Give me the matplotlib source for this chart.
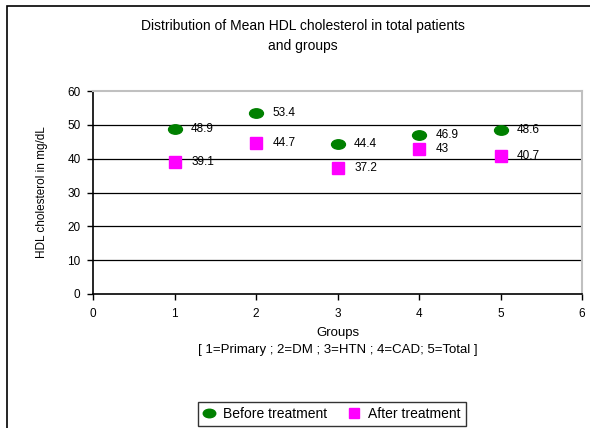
import matplotlib
matplotlib.use("Agg")
import matplotlib.pyplot as plt
from matplotlib.path import Path
from matplotlib.transforms import Affine2D
from matplotlib.patches import Rectangle

# data
groups = [1, 2, 3, 4, 5]
before = [48.9, 53.4, 44.4, 46.9, 48.6]
after = [39.1, 44.7, 37.2, 43.0, 40.7]
before_labels = ["48.9", "53.4", "44.4", "46.9", "48.6"]
after_labels = ["39.1", "44.7", "37.2", "43", "40.7"]
xticks = [0, 1, 2, 3, 4, 5, 6]
yticks = [0, 10, 20, 30, 40, 50, 60]

plt.rcParams['font.family'] = ['Liberation Sans', 'DejaVu Sans']

fig = plt.figure(figsize=(5.9, 4.28), dpi=100)
ax = fig.add_axes([93 / 590, 1 - 294 / 428, (582 - 93) / 590, (294 - 91) / 428])

# flattened ellipse marker like the Excel one
ellipse = Path.unit_circle().transformed(Affine2D().scale(1.0, 0.68))

ax.plot(groups, before, linestyle='none', marker=ellipse, markersize=10,
        color='#008000', label='Before treatment', zorder=3)
ax.plot(groups, after, linestyle='none', marker='s', markersize=8,
        color='#ff00ff', label='After treatment', zorder=3)

for x, y, t in zip(groups, before, before_labels):
    ax.annotate(t, (x, y), xytext=(12, 0), textcoords='offset points',
                va='center', ha='left', fontsize=8.5)
for x, y, t in zip(groups, after, after_labels):
    ax.annotate(t, (x, y), xytext=(12, 0), textcoords='offset points',
                va='center', ha='left', fontsize=8.5)

ax.set_xlim(0, 6)
ax.set_ylim(0, 60)
ax.set_xticks(xticks)
ax.set_yticks(yticks)
ax.tick_params(axis='both', direction='out', length=4, width=1, labelsize=8.5, pad=5)
ax.tick_params(axis='x', pad=6)

for y in yticks[1:-1]:
    ax.axhline(y, color='black', lw=0.9, zorder=1)

ax.spines['left'].set_color('black')
ax.spines['bottom'].set_color('black')
ax.spines['left'].set_linewidth(1.2)
ax.spines['bottom'].set_linewidth(1.2)
ax.spines['top'].set_color('#c0c0c0')
ax.spines['right'].set_color('#c0c0c0')
ax.spines['top'].set_linewidth(1.5)
ax.spines['right'].set_linewidth(1.5)

ax.set_xlabel('Groups\n[ 1=Primary ; 2=DM ; 3=HTN ; 4=CAD; 5=Total ]',
              fontsize=9.5, linespacing=1.55, labelpad=5)
ax.set_ylabel('HDL cholesterol in mg/dL', fontsize=8.5,
              family=['Liberation Sans Narrow', 'Liberation Sans'], labelpad=14)

fig.text(303 / 590, 1 - 36 / 428,
         'Distribution of Mean HDL cholesterol in total patients\nand groups',
         ha='center', va='center', fontsize=10, linespacing=1.6)

leg = fig.legend(loc='upper center', bbox_to_anchor=(332 / 590, 1 - 395 / 428),
                 ncol=2, fontsize=10, frameon=True, fancybox=False,
                 edgecolor='black', handlelength=0.8, handletextpad=0.6,
                 columnspacing=1.6, borderpad=0.35, markerscale=0.9)
leg.get_frame().set_linewidth(1.0)

# outer chart border (right and bottom run off the picture)
fig.patches.append(Rectangle((7 / 590, -0.02), 1.0, 1 - 6 / 428 + 0.02,
                             transform=fig.transFigure, fill=False,
                             edgecolor='black', lw=1.2))

fig.savefig('out.png', dpi=100)
